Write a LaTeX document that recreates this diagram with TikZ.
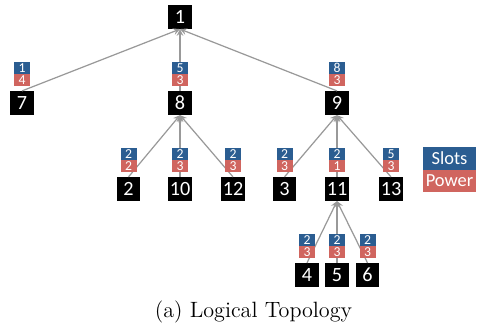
\documentclass[tikz,border=0pt]{standalone}
\usepackage{fontspec}
\usetikzlibrary{shapes.geometric, arrows}
\newfontfamily\calibri{Carlito}
\definecolor{slotblue}{HTML}{2B5D91}
\definecolor{powerred}{HTML}{D0655F}
\definecolor{linkgray}{HTML}{999999}
\tikzstyle{host} = [rectangle, minimum width=0.47cm, minimum height=0.47cm, inner sep=1pt, text centered, fill=black, text=white, font=\calibri\fontsize{11.5}{11.5}\selectfont]
\tikzstyle{slots} = [rectangle, minimum width=0.32cm, minimum height=0.24cm, inner sep=0pt, text centered, fill=slotblue, text=white, font=\calibri\fontsize{7.8}{7.8}\selectfont]
\tikzstyle{power} = [slots, fill=powerred]
\tikzstyle{key} = [rectangle, minimum width=1.06cm, minimum height=0.45cm, inner sep=0pt, text centered, text=white, font=\calibri\fontsize{10.5}{10.5}\selectfont]
\tikzstyle{arrow} = [line width=0.7pt, draw=linkgray, ->, >=stealth]

\begin{document}
\begin{tikzpicture}[node distance=1.72cm]
\useasboundingbox (0,0) rectangle (9.56,-6.54);

\node (n1) [host] at (3.6,-0.34) {1};
\node (n7) [host, below of=n1, xshift=-3.16cm] {7};
\node (n8) [host, below of=n1] {8};
\node (n9) [host, below of=n1, xshift=3.14cm] {9};
\node (n2) [host, below of=n8, xshift=-1.03cm] {2};
\node (n10) [host, below of=n8] {10};
\node (n12) [host, below of=n8, xshift=1.06cm] {12};
\node (n3) [host, below of=n9, xshift=-1.05cm] {3};
\node (n11) [host, below of=n9] {11};
\node (n13) [host, below of=n9, xshift=1.08cm] {13};
\node (n4) [host, below of=n11, xshift=-0.6cm] {4};
\node (n5) [host, below of=n11] {5};
\node (n6) [host, below of=n11, xshift=0.61cm] {6};

\draw [arrow] (n7.north) -- (n1.south);
\draw [arrow] (n8.north) -- (n1.south);
\draw [arrow] (n9.north) -- (n1.south);
\draw [arrow] (n2.north) -- (n8.south);
\draw [arrow] (n10.north) -- (n8.south);
\draw [arrow] (n12.north) -- (n8.south);
\draw [arrow] (n3.north) -- (n9.south);
\draw [arrow] (n11.north) -- (n9.south);
\draw [arrow] (n13.north) -- (n9.south);
\draw [arrow] (n4.north) -- (n11.south);
\draw [arrow] (n5.north) -- (n11.south);
\draw [arrow] (n6.north) -- (n11.south);

% slots over power, above each child
\node (s7) [slots, node distance=0.7cm, above of=n7] {1};
\node (p7) [power, node distance=0.24cm, below of=s7] {4};
\node (s8) [slots, node distance=0.7cm, above of=n8] {5};
\node (p8) [power, node distance=0.24cm, below of=s8] {3};
\node (s9) [slots, node distance=0.7cm, above of=n9] {8};
\node (p9) [power, node distance=0.24cm, below of=s9] {3};
\node (s2) [slots, node distance=0.7cm, above of=n2] {2};
\node (p2) [power, node distance=0.24cm, below of=s2] {2};
\node (s10) [slots, node distance=0.7cm, above of=n10] {2};
\node (p10) [power, node distance=0.24cm, below of=s10] {3};
\node (s12) [slots, node distance=0.7cm, above of=n12] {2};
\node (p12) [power, node distance=0.24cm, below of=s12] {3};
\node (s3) [slots, node distance=0.7cm, above of=n3] {2};
\node (p3) [power, node distance=0.24cm, below of=s3] {3};
\node (s11) [slots, node distance=0.7cm, above of=n11] {2};
\node (p11) [power, node distance=0.24cm, below of=s11] {1};
\node (s13) [slots, node distance=0.7cm, above of=n13] {5};
\node (p13) [power, node distance=0.24cm, below of=s13] {3};
\node (s4) [slots, node distance=0.7cm, above of=n4] {2};
\node (p4) [power, node distance=0.24cm, below of=s4] {3};
\node (s5) [slots, node distance=0.7cm, above of=n5] {2};
\node (p5) [power, node distance=0.24cm, below of=s5] {3};
\node (s6) [slots, node distance=0.7cm, above of=n6] {2};
\node (p6) [power, node distance=0.24cm, below of=s6] {3};

% legend
\node (slotkey) [key, fill=slotblue, node distance=1.17cm, right of=n13, yshift=0.61cm] {Slots};
\node (powerkey) [key, fill=powerred, node distance=0.45cm, below of=slotkey] {Power};

\node (caption) [anchor=base, font=\fontsize{12.6}{15}\selectfont] at (5.07,-6.34) {(a) Logical Topology};

\end{tikzpicture}
\end{document}
